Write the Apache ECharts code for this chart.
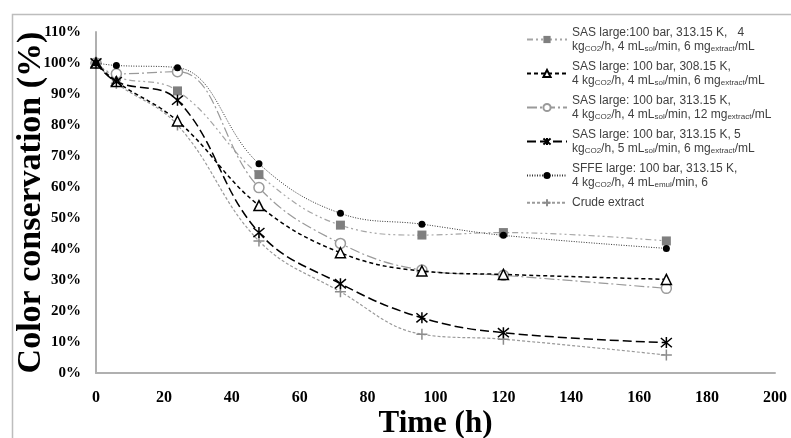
<!DOCTYPE html>
<html>
<head>
<meta charset="utf-8">
<script src="https://cdn.jsdelivr.net/npm/echarts@6/dist/echarts.min.js"></script>
<style>
  html, body { margin: 0; padding: 0; background: #fff; }
  #chart { width: 791px; height: 438px; }
</style>
</head>
<body>
<div id="chart"></div>
<script>
// time points (h)
const hours = [0, 6, 24, 48, 72, 96, 120, 168];

// colour conservation (%) per sample
const sas313_4kg = [100, 95.5, 91, 64, 47.7, 44.5, 45.3, 42.6];
const sas308 = [100, 94, 81.3, 54, 38.8, 32.9, 31.8, 30.2];
const sas12mg = [100, 96.5, 97.2, 59.8, 41.8, 33.2, 31.5, 27.3];
const sas5kg = [100, 94, 88, 45.3, 28.8, 17.8, 13, 9.8];
const sffe = [100, 99.2, 98.5, 67.5, 51.5, 48, 44.4, 40.2];
const crude = [100, 93.5, 80, 42.6, 26.2, 12.5, 10.9, 5.8];

const seriesNames = ['sas313_4kg', 'sas308', 'sas12mg', 'sas5kg', 'sffe', 'crude'];
const legendText = {
  sas313_4kg: 'SAS large:100 bar, 313.15 K,   4\nkg{s|CO2}/h, 4 mL{s|sol}/min, 6 mg{s|extract}/mL',
  sas308: 'SAS large: 100 bar, 308.15 K,\n4 kg{s|CO2}/h, 4 mL{s|sol}/min, 6 mg{s|extract}/mL',
  sas12mg: 'SAS large: 100 bar, 313.15 K,\n4 kg{s|CO2}/h, 4 mL{s|sol}/min, 12 mg{s|extract}/mL',
  sas5kg: 'SAS large: 100 bar, 313.15 K, 5\nkg{s|CO2}/h, 5 mL{s|sol}/min, 6 mg{s|extract}/mL',
  sffe: 'SFFE large: 100 bar, 313.15 K,\n4 kg{s|CO2}/h, 4 mL{s|emul}/min, 6',
  crude: 'Crude extract'
};

const asterisk = 'path://M0,0L10,10M10,0L0,10M5,-1L5,11';
const plus = 'path://M5,0L5,10M0,5L10,5';

function pairs(values) {
  return hours.map((h, i) => [h, values[i]]);
}

const serif = '"Liberation Serif", "Times New Roman", serif';

let myChart = echarts.init(document.getElementById('chart'));

myChart.setOption({
  animation: false,
  backgroundColor: '#fff',
  grid: {
    left: 96,
    right: 16,
    top: 32,
    bottom: 65,
    outerBoundsMode: 'none'
  },
  graphic: [
    {
      type: 'rect',
      left: 10,
      top: 12,
      shape: { width: 800, height: 440 },
      style: { fill: 'none', stroke: '#bdbdbd', lineWidth: 1.5 },
      silent: true
    }
  ],
  legend: {
    orient: 'vertical',
    left: 526,
    top: 26,
    padding: 0,
    itemWidth: 40,
    itemHeight: 9,
    itemGap: 7,
    data: seriesNames,
    formatter: function (name) {
      return legendText[name];
    },
    textStyle: {
      fontFamily: '"Liberation Sans", Arial, sans-serif',
      fontSize: 12,
      color: '#404040',
      lineHeight: 13.5,
      rich: {
        s: {
          fontFamily: '"Liberation Sans", Arial, sans-serif',
          fontSize: 8,
          color: '#404040',
          verticalAlign: 'bottom',
          lineHeight: 13.5
        }
      }
    }
  },
  xAxis: {
    type: 'value',
    min: 0,
    max: 200,
    interval: 20,
    name: 'Time (h)',
    nameLocation: 'middle',
    nameGap: 35,
    nameMoveOverlap: false,
    nameTextStyle: {
      fontFamily: serif,
      fontWeight: 'bold',
      fontSize: 31,
      color: '#000'
    },
    axisLine: { show: true, lineStyle: { color: '#b0b0b0', width: 2 } },
    axisTick: { show: false },
    splitLine: { show: false },
    axisLabel: {
      margin: 17,
      fontFamily: serif,
      fontWeight: 'bold',
      fontSize: 16,
      color: '#000'
    }
  },
  yAxis: {
    type: 'value',
    min: 0,
    max: 110,
    interval: 10,
    name: 'Color conservation (%)',
    nameLocation: 'middle',
    nameGap: 48,
    nameMoveOverlap: false,
    nameTextStyle: {
      fontFamily: serif,
      fontWeight: 'bold',
      fontSize: 34,
      color: '#000'
    },
    axisLine: { show: true, lineStyle: { color: '#b0b0b0', width: 2 } },
    axisTick: { show: false },
    splitLine: { show: false },
    axisLabel: {
      margin: 15,
      formatter: '{value}%',
      fontFamily: serif,
      fontWeight: 'bold',
      fontSize: 15,
      color: '#000'
    }
  },
  series: [
    {
      name: 'sas313_4kg',
      type: 'line',
      smooth: 0.4,
      data: pairs(sas313_4kg),
      symbol: 'rect',
      symbolSize: 9,
      itemStyle: { color: '#7f7f7f' },
      lineStyle: { color: '#a6a6a6', width: 1.2, type: [6, 3, 2, 3, 2, 3] },
      z: 3
    },
    {
      name: 'sas308',
      type: 'line',
      smooth: 0.4,
      data: pairs(sas308),
      symbol: 'triangle',
      symbolSize: 10,
      itemStyle: { color: '#fff', borderColor: '#000', borderWidth: 1.5 },
      lineStyle: { color: '#000', width: 1.5, type: [4, 3] },
      z: 4
    },
    {
      name: 'sas12mg',
      type: 'line',
      smooth: 0.4,
      data: pairs(sas12mg),
      symbol: 'circle',
      symbolSize: 10,
      itemStyle: { color: '#fff', borderColor: '#9a9a9a', borderWidth: 1.5 },
      lineStyle: { color: '#9a9a9a', width: 1.2, type: [10, 3, 2, 3] },
      z: 3
    },
    {
      name: 'sas5kg',
      type: 'line',
      smooth: 0.4,
      data: pairs(sas5kg),
      symbol: asterisk,
      symbolSize: 11,
      itemStyle: { color: '#000', borderColor: '#000', borderWidth: 1.5 },
      lineStyle: { color: '#000', width: 1.5, type: [9, 4] },
      z: 5
    },
    {
      name: 'sffe',
      type: 'line',
      smooth: 0.4,
      data: pairs(sffe),
      symbol: 'circle',
      symbolSize: 7,
      itemStyle: { color: '#000' },
      lineStyle: { color: '#333', width: 1, type: [1, 1.5] },
      z: 5
    },
    {
      name: 'crude',
      type: 'line',
      smooth: 0.4,
      data: pairs(crude),
      symbol: plus,
      symbolSize: 11,
      itemStyle: { color: '#8c8c8c', borderColor: '#8c8c8c', borderWidth: 1.5 },
      lineStyle: { color: '#9a9a9a', width: 1.2, type: [3, 2] },
      z: 2
    }
  ]
});
window.addEventListener('resize', function () {
  myChart.resize();
});
</script>
</body>
</html>
